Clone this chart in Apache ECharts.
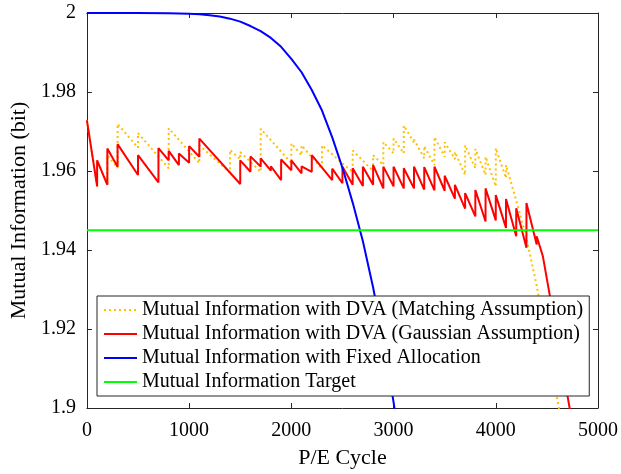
<!DOCTYPE html>
<html>
<head>
<meta charset="utf-8">
<script src="https://cdn.jsdelivr.net/npm/echarts@6/dist/echarts.min.js"></script>
<style>
html,body{margin:0;padding:0;background:#fff;}
#chart{width:621px;height:474px;}
</style>
</head>
<body>
<div id="chart"></div>
<script>
// ---- data ----
const xTicks = [0, 1000, 2000, 3000, 4000, 5000];
const yTicks = [1.9, 1.92, 1.94, 1.96, 1.98, 2];

const seriesNames = [
  'Mutual Information with DVA (Matching Assumption)',
  'Mutual Information with DVA (Gaussian Assumption)',
  'Mutual Information with Fixed Allocation',
  'Mutual Information Target'
];

// Matching assumption (dotted)
const matchX = [0, 100,100, 200,200, 300,300, 500,500, 800,800, 1100,1100, 1400,1400, 1500,1500, 1700,1700,
  2000,2000, 2100,2100, 2300,2300, 2600,2600, 2800,2800, 2900,2900, 3000,3000, 3100,3100, 3200,3200,
  3300,3300, 3400,3400, 3500,3500, 3600,3600, 3700,3700, 3800,3800, 3900,3900, 4000,4000, 4100,4100,
  4200, 4300, 4400, 4500, 4600, 4700];
const matchY = [1.9728, 1.9561,1.9627, 1.9565,1.9640, 1.9608,1.9719, 1.9659,1.9696, 1.9607,1.9708,
  1.9620,1.9665, 1.9596,1.9653, 1.9630,1.9648, 1.9598,1.9707, 1.9620,1.9670, 1.9640,1.9665,
  1.9605,1.9665, 1.9597,1.9652, 1.9600,1.9640, 1.9615,1.9673, 1.9645,1.9682, 1.9645,1.9715,
  1.9672,1.9680, 1.9632,1.9663, 1.9615,1.9686, 1.9636,1.9673, 1.9630,1.9648, 1.9590,1.9665,
  1.9607,1.9656, 1.9590,1.9636, 1.9561,1.9658, 1.9582,1.9615,
  1.9525, 1.9430, 1.9310, 1.9170, 1.9025, 1.8880];

// Gaussian assumption (solid red)
const gaussX = [0, 100,100, 200,200, 300,300, 500,500, 700,700, 800,800, 900,900, 1000,1000, 1100,1100,
  1500,1500, 1600,1600, 1700,1700, 1800,1800, 1900,1900, 2000,2000, 2100,2100, 2200,2200, 2400,2400,
  2500,2500, 2600,2600, 2700,2700, 2800,2800, 2900,2900, 3000,3000, 3100,3100, 3200,3200, 3300,3300,
  3400,3400, 3500,3500, 3600,3600, 3700,3700, 3800,3800, 3900,3900, 4000,4000, 4100,4100, 4200,4200,
  4300,4300, 4400,4400, 4460, 4600, 4800];
const gaussY = [1.9728, 1.9561,1.9627, 1.9565,1.9657, 1.9611,1.9668, 1.9590,1.9640, 1.9571,1.9658,
  1.9627,1.9651, 1.9615,1.9644, 1.9621,1.9663, 1.9636,1.9682, 1.9567,1.9627, 1.9598,1.9637,
  1.9611,1.9632, 1.9601,1.9612, 1.9577,1.9629, 1.9602,1.9627, 1.9594,1.9612, 1.9598,1.9640,
  1.9577,1.9606, 1.9569,1.9611, 1.9565,1.9607, 1.9562,1.9611, 1.9565,1.9615, 1.9556,1.9611,
  1.9561,1.9611, 1.9556,1.9607, 1.9556,1.9611, 1.9553,1.9610, 1.9551,1.9611, 1.9550,1.9588,
  1.9530,1.9565, 1.9505,1.9544, 1.9485,1.9552, 1.9472,1.9556, 1.9475,1.9539, 1.9456,1.9529,
  1.9435,1.9506, 1.9406,1.9519, 1.9414,1.9435, 1.9385, 1.9180, 1.8886];

// Fixed allocation (blue)
const fixedX = [0, 500, 800, 900, 1000, 1100, 1200, 1300, 1400, 1500, 1600, 1700, 1800, 1900, 2000,
  2100, 2200, 2300, 2400, 2500, 2600, 2700, 2800, 2900, 3000, 3100];
const fixedY = [2.0000, 2.0000, 1.99995, 1.9999, 1.9998, 1.99966, 1.99945, 1.99911, 1.99857, 1.99782,
  1.9967, 1.99543, 1.9937, 1.99143, 1.9884, 1.9850, 1.9805, 1.9753, 1.9685, 1.9608, 1.9520,
  1.9422, 1.9305, 1.9171, 1.9015, 1.8835];

// Target (green)
const targetX = [0, 5000];
const targetY = [1.945, 1.945];

// ---- chart ----
const pairs = (xs, ys) => xs.map((x, i) => [x, ys[i]]);
const FONT = '"Liberation Serif", "Times New Roman", serif';
const AX = '#262626';

const chart = echarts.init(document.getElementById('chart'), null, {renderer: 'canvas'});

const baseAxis = {
  type: 'value',
  axisLine: {show: true, onZero: false, lineStyle: {color: AX, width: 1}},
  axisTick: {show: true, inside: true, length: 5, lineStyle: {color: AX, width: 1}},
  splitLine: {show: false}
};

chart.setOption({
  animation: false,
  backgroundColor: '#fff',
  grid: {left: 83, right: 23, top: 13, bottom: 62, containLabel: false},
  xAxis: [
    Object.assign({}, baseAxis, {
      position: 'bottom', min: xTicks[0], max: xTicks[xTicks.length - 1], interval: 1000,
      axisLabel: {fontFamily: FONT, fontSize: 20, color: '#000', margin: 13, formatter: v => String(v)},
      name: 'P/E Cycle', nameLocation: 'middle', nameGap: 39,
      nameTextStyle: {fontFamily: FONT, fontSize: 22, color: '#000'}
    }),
    Object.assign({}, baseAxis, {
      position: 'top', min: xTicks[0], max: xTicks[xTicks.length - 1], interval: 1000,
      axisLabel: {show: false}
    })
  ],
  yAxis: [
    Object.assign({}, baseAxis, {
      position: 'left', min: yTicks[0], max: yTicks[yTicks.length - 1], interval: 0.02,
      axisLabel: {fontFamily: FONT, fontSize: 20, color: '#000', margin: 11, formatter: v => String(+v.toFixed(2))},
      name: 'Mutual Information (bit)', nameLocation: 'middle', nameGap: 50,
      nameTextStyle: {fontFamily: FONT, fontSize: 22, color: '#000'}
    }),
    Object.assign({}, baseAxis, {
      position: 'right', min: yTicks[0], max: yTicks[yTicks.length - 1], interval: 0.02,
      axisLabel: {show: false}
    })
  ],
  legend: {
    orient: 'vertical', left: 97, top: 296,
    padding: [4, 6, 4, 6], itemGap: 4, itemWidth: 33, itemHeight: 2,
    borderColor: AX, borderWidth: 1, backgroundColor: '#fff', borderRadius: 0,
    textStyle: {fontFamily: FONT, fontSize: 20, color: '#000', lineHeight: 20},
    data: seriesNames
  },
  series: [
    {name: seriesNames[0], type: 'line', data: pairs(matchX, matchY), showSymbol: false, symbol: 'none',
     lineStyle: {color: '#FFC000', width: 2, type: [2, 3]}, itemStyle: {color: '#FFC000'}},
    {name: seriesNames[1], type: 'line', data: pairs(gaussX, gaussY), showSymbol: false, symbol: 'none',
     lineStyle: {color: '#FF0000', width: 2}, itemStyle: {color: '#FF0000'}},
    {name: seriesNames[2], type: 'line', data: pairs(fixedX, fixedY), showSymbol: false, symbol: 'none',
     lineStyle: {color: '#0000FF', width: 2}, itemStyle: {color: '#0000FF'}},
    {name: seriesNames[3], type: 'line', data: pairs(targetX, targetY), showSymbol: false, symbol: 'none',
     lineStyle: {color: '#00FF00', width: 2}, itemStyle: {color: '#00FF00'}}
  ]
});
</script>
</body>
</html>
